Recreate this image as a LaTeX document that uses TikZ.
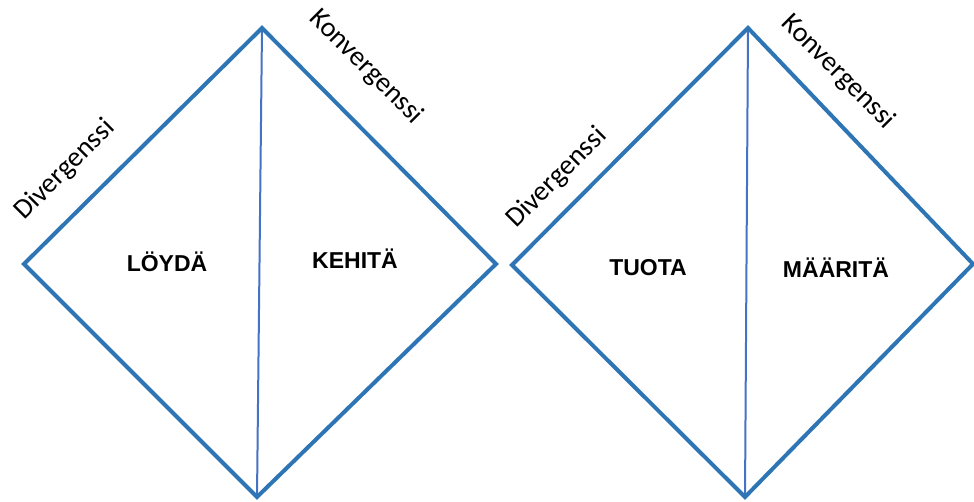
\documentclass[tikz,border=0pt]{standalone}
\usepackage{fontspec}
\setmainfont{Carlito}
\newfontfamily\headfont{Liberation Sans}
\usetikzlibrary{calc,positioning}
\definecolor{diamondblue}{RGB}{46,117,182}
\definecolor{splitblue}{RGB}{68,114,196}

\begin{document}
\begin{tikzpicture}[
    x=1pt, y=-1pt,
    outline/.style={
        draw=diamondblue,
        line width=4pt
    },
    split/.style={
        draw=splitblue,
        line width=2pt
    },
    phase/.style={
        font=\headfont\bfseries\fontsize{23}{26}\selectfont,
        anchor=base,
        inner sep=0pt
    },
    flow/.style={
        font=\fontsize{28}{32}\selectfont,
        inner sep=0pt
    }
]
\useasboundingbox (0,0) rectangle (974,502);

\coordinate (topA) at (262,28);
\coordinate (leftA) at (24,264);
\coordinate (rightA) at (496,264);
\coordinate (botA) at (257,497);

\coordinate (topB) at (748,28);
\coordinate (leftB) at (512,265);
\coordinate (rightB) at (973,264);
\coordinate (botB) at (745,497);

\draw[split] (topA) -- (botA);
\draw[outline] (leftA) -- (topA) -- (rightA) -- (botA) -- cycle;

\draw[split] (topB) -- (botB);
\draw[outline] (leftB) -- (topB) -- (rightB) -- (botB) -- cycle;

\node[flow, rotate=45] (divA) at (65,170) {Divergenssi};
\node[flow, rotate=-45] (konvA) at (366,67) {Konvergenssi};
\node[flow, rotate=45] (divB) at (557,178) {Divergenssi};
\node[flow, rotate=-45] (konvB) at (838,72) {Konvergenssi};

\node[phase] (loyda) at (167,272) {LÖYDÄ};
\node[phase] (kehita) at (355,269) {KEHITÄ};
\node[phase] (tuota) at (648,276) {TUOTA};
\node[phase] (maarita) at (836,278) {MÄÄRITÄ};

\end{tikzpicture}
\end{document}
